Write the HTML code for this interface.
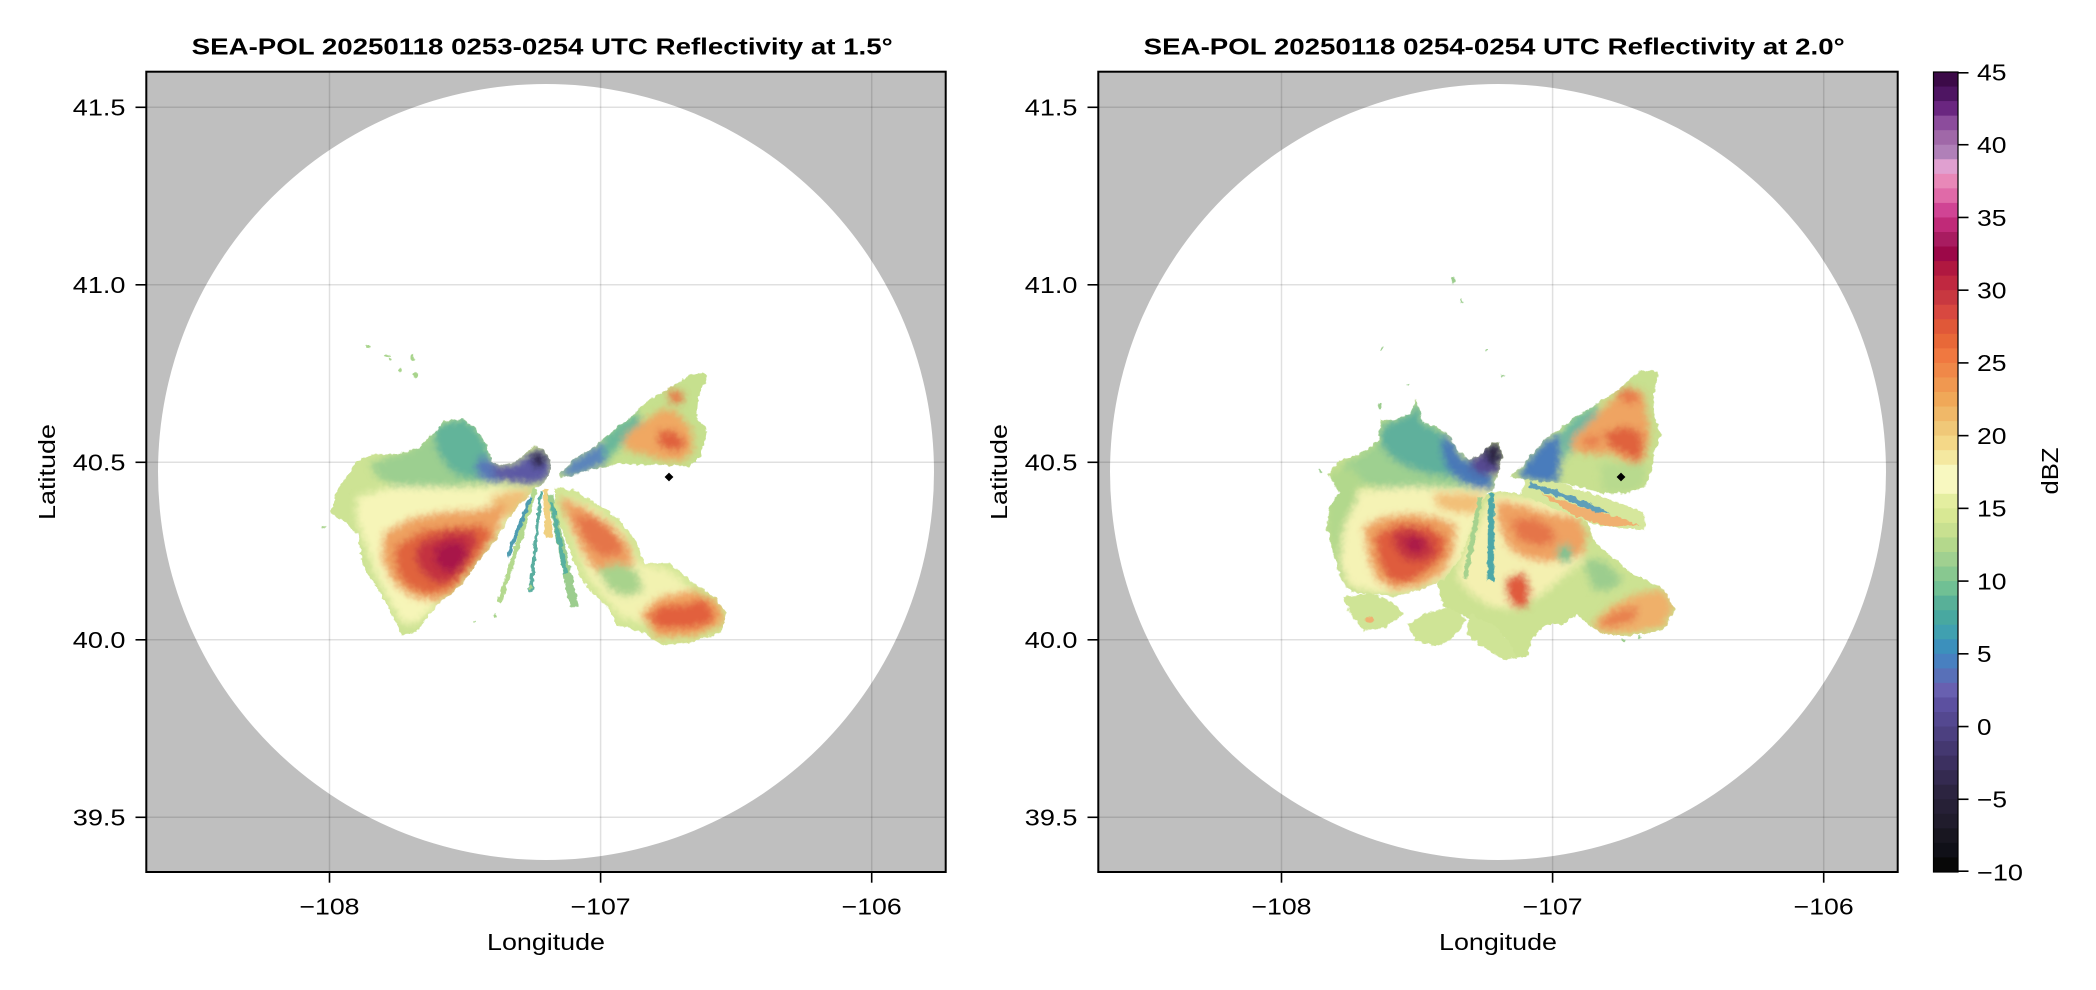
<!DOCTYPE html>
<html>
<head>
<meta charset="utf-8">
<style>
html,body{margin:0;padding:0;background:#fff;}
svg{display:block;}
text{font-family:"Liberation Sans","DejaVu Sans",sans-serif;fill:#000;}
</style>
</head>
<body>
<svg width="2096" height="990" viewBox="0 0 2096 990" xmlns="http://www.w3.org/2000/svg">
<defs>
  <clipPath id="axL"><rect x="146.3" y="71.7" width="799.4" height="800.3"/></clipPath>
  <clipPath id="axR"><rect x="1098.3" y="71.7" width="799.4" height="800.3"/></clipPath>
  <filter id="blur" x="-30%" y="-30%" width="160%" height="160%"><feGaussianBlur stdDeviation="11"/></filter>
  <filter id="rough" x="-8%" y="-8%" width="116%" height="116%">
    <feTurbulence type="fractalNoise" baseFrequency="0.06" numOctaves="2" seed="7" result="n"/>
    <feDisplacementMap in="SourceGraphic" in2="n" scale="16" xChannelSelector="R" yChannelSelector="G"/>
  </filter>
  <!-- Left clip shapes (zoom coords) -->
  <clipPath id="cLW"><polygon points="705,455 724,420 714,378 692,350 668,350 640,376 620,395 580,405 548,398 530,345 500,300 462,268 400,272 384,300 350,330 330,352 300,362 260,372 190,372 140,395 110,440 85,470 62,550 110,580 145,615 155,700 205,780 240,840 275,915 320,905 380,825 450,770 500,700 550,640 600,560 640,510 675,480"/></clipPath>
  <clipPath id="cLSE"><polygon points="735,475 790,480 860,520 930,570 975,630 1005,700 1080,700 1150,760 1215,800 1250,850 1235,905 1150,935 1060,945 990,905 920,885 900,840 860,800 820,755 790,690 760,610 735,540"/></clipPath>
  <clipPath id="cLNE"><polygon points="745,434 800,382 850,352 900,310 960,262 1010,215 1070,180 1130,140 1180,125 1192,140 1165,200 1160,262 1192,300 1172,380 1135,410 1080,405 1000,405 930,400 880,412 830,420 790,436 750,445"/></clipPath>
  <!-- Right clip shapes -->
  <clipPath id="cRW"><polygon points="548,692 565,640 578,585 568,548 545,545 520,580 480,598 440,570 420,530 380,500 340,490 318,415 300,462 250,480 212,480 205,540 160,578 90,600 55,640 88,700 58,740 50,800 70,880 90,950 120,995 200,1005 260,1010 330,990 400,960 450,900 480,820 510,740 530,700"/></clipPath>
  <clipPath id="cRS"><polygon points="548,695 640,700 720,730 800,760 835,790 850,840 880,870 920,900 960,940 1010,960 1060,985 1095,1050 1060,1110 960,1130 880,1122 840,1100 800,1062 760,1092 720,1090 700,1100 670,1130 650,1192 600,1185 585,1130 540,1100 500,1080 440,1062 400,1040 385,990 380,930 420,880 460,800 500,720"/></clipPath>
  <clipPath id="cRNE"><polygon points="600,652 640,612 700,542 780,482 860,432 920,392 990,330 1048,335 1030,400 1032,460 1052,520 1032,580 1022,640 1002,682 950,700 880,700 800,680 740,668 662,662"/></clipPath>
  <clipPath id="cRE"><polygon points="645,648 760,672 880,712 1000,756 1004,812 930,804 860,794 800,774 720,740 636,704"/></clipPath>
</defs>

<rect x="0" y="0" width="2096" height="990" fill="#ffffff"/>

<!-- ================= LEFT PANEL ================= -->
<g clip-path="url(#axL)">
  <rect x="146.3" y="71.7" width="799.4" height="800.3" fill="#bfbfbf"/>
  <circle cx="546" cy="472" r="388" fill="#ffffff"/>
  <g stroke="rgba(0,0,0,0.12)" stroke-width="1.5">
    <line x1="329.5" y1="71" x2="329.5" y2="873"/>
    <line x1="600.6" y1="71" x2="600.6" y2="873"/>
    <line x1="871.7" y1="71" x2="871.7" y2="873"/>
    <line x1="146" y1="107.3" x2="946" y2="107.3"/>
    <line x1="146" y1="284.8" x2="946" y2="284.8"/>
    <line x1="146" y1="462.3" x2="946" y2="462.3"/>
    <line x1="146" y1="639.8" x2="946" y2="639.8"/>
    <line x1="146" y1="817.3" x2="946" y2="817.3"/>
  </g>
  <g transform="translate(310,330) scale(0.333333)">
   <g filter="url(#rough)">
    <!-- West blob -->
    <g clip-path="url(#cLW)">
      <rect x="0" y="200" width="800" height="800" fill="#cde394"/>
      <g filter="url(#blur)">
        <polygon points="300,360 380,300 420,360 470,420 520,440 540,460 450,470 350,470 260,470 200,440 180,400 250,375" fill="#9ccf90"/>
        <polygon points="380,285 460,262 505,300 535,350 548,410 520,440 470,445 420,420 385,370 370,320" fill="#62b49a"/>
        <polygon points="515,375 550,398 585,420 570,458 520,452 495,420" fill="#5878b8"/>
        <polygon points="548,398 580,410 620,398 650,378 690,352 714,378 724,420 704,452 660,462 600,455 565,445 548,430" fill="#5c58a4"/>
        <polygon points="662,378 682,364 702,372 706,400 690,412 668,405" fill="#2e2844"/>
        <polygon points="140,500 250,470 350,470 450,472 560,470 650,476 665,490 600,560 550,640 500,700 450,770 380,825 320,880 275,880 230,800 195,730 165,640 140,570" fill="#f6f5b8"/>
        <polygon points="540,500 600,482 668,482 640,520 600,560 560,560" fill="#f0c078"/>
        <polygon points="220,610 300,565 400,545 500,540 590,520 560,620 500,700 440,780 380,815 300,800 250,760 215,690" fill="#eea260"/>
        <polygon points="255,650 340,600 430,590 520,585 545,615 490,700 430,770 370,795 300,775 260,725" fill="#e0643e"/>
        <polygon points="330,640 410,605 490,605 500,640 470,700 430,750 380,760 335,725 315,680" fill="#c43040"/>
        <polygon points="380,650 440,630 475,665 450,715 405,725 375,695" fill="#a81848"/>
      </g>
    </g>
    <!-- spokes -->
    <polygon points="668,478 682,480 575,820 562,815" fill="#b4d98e"/>
    <polygon points="655,500 668,502 600,680 588,678" fill="#4f9cb0"/>
    <polygon points="688,482 697,482 668,785 656,783" fill="#5aaea0"/>
    <polygon points="698,478 714,478 728,620 706,625" fill="#f0d080"/>
    <polygon points="712,498 730,496 808,830 780,832" fill="#9ccd8e"/>
    <polygon points="720,520 731,520 775,730 760,732" fill="#58b0a0"/>
    <!-- SE wedge -->
    <g clip-path="url(#cLSE)">
      <rect x="700" y="450" width="600" height="520" fill="#d2e696"/>
      <g filter="url(#blur)">
        <polygon points="760,500 850,530 940,600 990,700 1080,720 1150,780 1200,820 1150,900 1000,880 930,860 880,800 830,740 800,660 770,580" fill="#f2f2b0"/>
        <polygon points="745,500 820,530 900,580 955,640 975,700 920,720 870,735 830,690 800,630 775,570" fill="#eea062"/>
        <polygon points="790,555 860,565 920,620 940,670 880,680 830,640" fill="#e57448"/>
        <polygon points="860,720 920,700 980,720 1000,780 950,800 900,780" fill="#a8d38c"/>
        <polygon points="990,850 1050,800 1150,780 1230,820 1242,880 1150,920 1040,920" fill="#f0a25e"/>
        <polygon points="1010,860 1060,825 1120,825 1180,805 1215,850 1195,885 1120,895 1050,895" fill="#e2603e"/>
      </g>
    </g>
    <!-- NE blob -->
    <g clip-path="url(#cLNE)">
      <rect x="730" y="100" width="490" height="360" fill="#c6e08e"/>
      <g filter="url(#blur)">
        <polygon points="745,434 800,382 850,352 892,330 895,395 840,420 790,440" fill="#5a84bc"/>
        <polygon points="880,320 930,280 980,245 1000,290 940,340 900,380 885,400" fill="#6ab89a"/>
        <polygon points="940,320 1000,275 1060,235 1105,250 1145,300 1150,360 1120,392 1060,392 1000,372 950,360" fill="#f0a862"/>
        <polygon points="1045,300 1100,305 1130,345 1095,365 1045,345" fill="#e0603e"/>
        <polygon points="1075,178 1120,188 1115,222 1080,218" fill="#e87a4a"/>
      </g>
    </g>
    <!-- specks -->
    <g fill="#a8d48c">
      <ellipse cx="175" cy="50" rx="7" ry="4"/>
      <ellipse cx="232" cy="76" rx="9" ry="4"/>
      <ellipse cx="240" cy="86" rx="5" ry="4"/>
      <ellipse cx="308" cy="84" rx="5" ry="9"/>
      <ellipse cx="272" cy="120" rx="5" ry="4"/>
      <ellipse cx="318" cy="135" rx="8" ry="6"/>
      <ellipse cx="42" cy="590" rx="6" ry="3"/>
      <ellipse cx="490" cy="876" rx="4" ry="4"/>
      <ellipse cx="555" cy="856" rx="5" ry="5"/>
      <ellipse cx="662" cy="770" rx="4" ry="8"/>
    </g>
   </g>
  </g>
  <polygon points="669,472.6 673.4,477 669,481.4 664.6,477" fill="#000"/>
</g>
<rect x="146.3" y="71.7" width="799.4" height="800.3" fill="none" stroke="#000" stroke-width="2"/>
<!-- left ticks -->
<g stroke="#000" stroke-width="1.6">
  <line x1="135.5" y1="107.3" x2="146.3" y2="107.3"/>
  <line x1="135.5" y1="284.8" x2="146.3" y2="284.8"/>
  <line x1="135.5" y1="462.3" x2="146.3" y2="462.3"/>
  <line x1="135.5" y1="639.8" x2="146.3" y2="639.8"/>
  <line x1="135.5" y1="817.3" x2="146.3" y2="817.3"/>
  <line x1="329.5" y1="872" x2="329.5" y2="882.7"/>
  <line x1="600.6" y1="872" x2="600.6" y2="882.7"/>
  <line x1="871.7" y1="872" x2="871.7" y2="882.7"/>
</g>
<g font-size="23">
  <text x="125.5" y="115.6" text-anchor="end" textLength="52.7" lengthAdjust="spacingAndGlyphs">41.5</text>
  <text x="125.5" y="293.1" text-anchor="end" textLength="52.7" lengthAdjust="spacingAndGlyphs">41.0</text>
  <text x="125.5" y="470.6" text-anchor="end" textLength="52.7" lengthAdjust="spacingAndGlyphs">40.5</text>
  <text x="125.5" y="648.1" text-anchor="end" textLength="52.7" lengthAdjust="spacingAndGlyphs">40.0</text>
  <text x="125.5" y="825.6" text-anchor="end" textLength="52.7" lengthAdjust="spacingAndGlyphs">39.5</text>
  <text x="299.5" y="914.5" textLength="60" lengthAdjust="spacingAndGlyphs">−108</text>
  <text x="570.6" y="914.5" textLength="60" lengthAdjust="spacingAndGlyphs">−107</text>
  <text x="841.7" y="914.5" textLength="60" lengthAdjust="spacingAndGlyphs">−106</text>
  <text x="487" y="950" textLength="118" lengthAdjust="spacingAndGlyphs">Longitude</text>
  <text transform="translate(55,472) rotate(-90)" x="-48" y="0" textLength="96" lengthAdjust="spacingAndGlyphs">Latitude</text>
  <text x="191.7" y="54.3" font-weight="bold" font-size="23.5" textLength="701" lengthAdjust="spacingAndGlyphs">SEA-POL 20250118 0253-0254 UTC Reflectivity at 1.5°</text>
</g>

<!-- ================= RIGHT PANEL ================= -->
<g clip-path="url(#axR)">
  <rect x="1098.3" y="71.7" width="799.4" height="800.3" fill="#bfbfbf"/>
  <circle cx="1498" cy="472" r="388" fill="#ffffff"/>
  <g stroke="rgba(0,0,0,0.12)" stroke-width="1.5">
    <line x1="1281.5" y1="71" x2="1281.5" y2="873"/>
    <line x1="1552.6" y1="71" x2="1552.6" y2="873"/>
    <line x1="1823.7" y1="71" x2="1823.7" y2="873"/>
    <line x1="1098" y1="107.3" x2="1898" y2="107.3"/>
    <line x1="1098" y1="284.8" x2="1898" y2="284.8"/>
    <line x1="1098" y1="462.3" x2="1898" y2="462.3"/>
    <line x1="1098" y1="639.8" x2="1898" y2="639.8"/>
    <line x1="1098" y1="817.3" x2="1898" y2="817.3"/>
  </g>
  <g transform="translate(1310,260) scale(0.333333)">
   <g filter="url(#rough)">
    <!-- South / east region (drawn first) -->
    <g clip-path="url(#cRS)">
      <rect x="370" y="680" width="740" height="530" fill="#cce292"/>
      <g filter="url(#blur)">
        <polygon points="560,700 700,720 800,760 830,820 820,900 760,950 700,1000 620,1050 540,1040 480,1000 440,950 460,880 500,800 530,730" fill="#f4f0b0"/>
        <polygon points="560,720 640,735 720,760 800,770 830,820 820,880 780,900 720,905 660,900 600,870 575,820 560,770" fill="#efa262"/>
        <polygon points="600,780 670,775 720,800 740,840 690,860 630,840" fill="#e57448"/>
        <polygon points="588,955 640,935 662,985 652,1040 610,1042 588,1000" fill="#e05a3e"/>
        <ellipse cx="765" cy="880" rx="22" ry="28" fill="#7cc292"/>
        <polygon points="820,900 880,900 940,960 900,990 850,990" fill="#9ccd8e"/>
        <polygon points="845,1092 900,1040 980,1000 1060,990 1090,1040 1062,1100 960,1120 880,1120" fill="#efb06a"/>
        <polygon points="862,1090 920,1052 985,1040 975,1080 905,1102" fill="#e8804e"/>
      </g>
    </g>
    <!-- West blob -->
    <g clip-path="url(#cRW)">
      <rect x="0" y="380" width="620" height="660" fill="#c8e090"/>
      <g filter="url(#blur)">
        <polygon points="212,480 300,462 340,490 380,510 420,560 470,640 520,680 400,690 300,690 200,680 120,660 90,620 160,578 205,540" fill="#9ed090"/>
        <polygon points="215,500 300,460 320,420 340,490 380,505 420,540 440,600 470,640 420,650 350,640 290,620 240,590 210,550" fill="#5fb09c"/>
        <polygon points="400,520 430,545 450,590 490,610 540,640 552,690 500,684 450,665 410,625 395,570" fill="#4a78b8"/>
        <polygon points="478,600 510,582 540,548 568,548 578,585 565,640 525,648 490,632" fill="#574a92"/>
        <polygon points="525,570 548,548 570,555 572,600 555,620 530,605" fill="#2c2540"/>
        <polygon points="58,720 150,690 300,680 450,685 545,695 520,745 490,820 460,900 400,960 300,1000 200,1000 120,980 80,900 60,800" fill="#f5f3b5"/>
        <polygon points="50,650 100,620 150,640 140,720 100,800 90,900 110,990 70,900 50,800" fill="#b2d88c"/>
        <polygon points="370,700 450,700 520,705 500,760 440,760 380,740" fill="#f2c078"/>
        <polygon points="160,800 220,770 300,760 380,770 440,795 430,880 400,940 330,980 250,990 200,960 175,900" fill="#eea260"/>
        <polygon points="195,825 265,790 350,795 405,830 405,880 355,930 300,965 240,965 205,900" fill="#df5c3e"/>
        <polygon points="245,820 310,805 365,835 375,880 335,905 280,895 255,860" fill="#c23040"/>
        <polygon points="280,840 325,832 345,862 310,880" fill="#a81848"/>
      </g>
    </g>
    <!-- streaks -->
    <polygon points="535,700 552,700 552,965 532,962" fill="#4ea8a8"/>
    <polygon points="505,710 518,712 472,955 458,952" fill="#a6d28e"/>
    <!-- ESE streak region -->
    <g clip-path="url(#cRE)">
      <rect x="630" y="640" width="380" height="180" fill="#d6e79c"/>
      <polygon points="690,700 800,735 900,765 990,795 900,800 800,770" fill="#f0b070"/>
      <polygon points="660,665 760,700 860,740 900,760 860,756 760,716 655,682" fill="#5f9fb8"/>
    </g>
    <!-- NE blob -->
    <g clip-path="url(#cRNE)">
      <rect x="590" y="320" width="470" height="390" fill="#c8e090"/>
      <g filter="url(#blur)">
        <polygon points="622,650 645,612 700,545 750,520 752,600 742,665 700,668" fill="#4a7cbc"/>
        <polygon points="752,520 782,482 832,450 862,432 862,480 802,540 762,600" fill="#6ab8a0"/>
        <polygon points="782,540 842,482 902,422 962,380 1002,400 1012,470 1022,522 1002,602 962,612 902,582 842,582 792,572" fill="#efa462"/>
        <polygon points="880,520 940,500 990,512 1000,562 980,612 950,582 900,562" fill="#e0623e"/>
        <polygon points="920,392 962,385 992,412 972,432 932,422" fill="#e87a4c"/>
        <polygon points="822,532 872,522 862,562 822,562" fill="#e8804e"/>
        <polygon points="870,610 1010,610 1000,680 950,700 880,698" fill="#b8da8e"/>
      </g>
    </g>
    <!-- south scattered -->
    <g fill="#cfe496">
      <polygon points="100,1010 180,1000 240,1020 280,1060 230,1100 160,1112 120,1062"/>
      <polygon points="290,1092 350,1060 420,1040 470,1080 430,1130 380,1162 320,1142"/>
      <polygon points="480,1062 560,1100 600,1150 620,1192 580,1200 520,1162 470,1122"/>
    </g>
    <ellipse cx="180" cy="1080" rx="14" ry="10" fill="#f0b070"/>
    <!-- specks -->
    <g fill="#9ccd8e">
      <ellipse cx="430" cy="60" rx="5" ry="10"/>
      <ellipse cx="455" cy="122" rx="3" ry="6"/>
      <ellipse cx="215" cy="265" rx="4" ry="4"/>
      <ellipse cx="532" cy="272" rx="4" ry="4"/>
      <ellipse cx="580" cy="346" rx="4" ry="4"/>
      <ellipse cx="295" cy="375" rx="3" ry="3"/>
      <ellipse cx="210" cy="440" rx="6" ry="8"/>
      <ellipse cx="30" cy="635" rx="5" ry="4"/>
      <ellipse cx="940" cy="1140" rx="8" ry="5"/>
      <ellipse cx="990" cy="1132" rx="5" ry="4"/>
    </g>
   </g>
  </g>
  <polygon points="1621,472.6 1625.4,477 1621,481.4 1616.6,477" fill="#000"/>
</g>
<rect x="1098.3" y="71.7" width="799.4" height="800.3" fill="none" stroke="#000" stroke-width="2"/>
<g stroke="#000" stroke-width="1.6">
  <line x1="1087.5" y1="107.3" x2="1098.3" y2="107.3"/>
  <line x1="1087.5" y1="284.8" x2="1098.3" y2="284.8"/>
  <line x1="1087.5" y1="462.3" x2="1098.3" y2="462.3"/>
  <line x1="1087.5" y1="639.8" x2="1098.3" y2="639.8"/>
  <line x1="1087.5" y1="817.3" x2="1098.3" y2="817.3"/>
  <line x1="1281.5" y1="872" x2="1281.5" y2="882.7"/>
  <line x1="1552.6" y1="872" x2="1552.6" y2="882.7"/>
  <line x1="1823.7" y1="872" x2="1823.7" y2="882.7"/>
</g>
<g font-size="23">
  <text x="1077.5" y="115.6" text-anchor="end" textLength="52.7" lengthAdjust="spacingAndGlyphs">41.5</text>
  <text x="1077.5" y="293.1" text-anchor="end" textLength="52.7" lengthAdjust="spacingAndGlyphs">41.0</text>
  <text x="1077.5" y="470.6" text-anchor="end" textLength="52.7" lengthAdjust="spacingAndGlyphs">40.5</text>
  <text x="1077.5" y="648.1" text-anchor="end" textLength="52.7" lengthAdjust="spacingAndGlyphs">40.0</text>
  <text x="1077.5" y="825.6" text-anchor="end" textLength="52.7" lengthAdjust="spacingAndGlyphs">39.5</text>
  <text x="1251.5" y="914.5" textLength="60" lengthAdjust="spacingAndGlyphs">−108</text>
  <text x="1522.6" y="914.5" textLength="60" lengthAdjust="spacingAndGlyphs">−107</text>
  <text x="1793.7" y="914.5" textLength="60" lengthAdjust="spacingAndGlyphs">−106</text>
  <text x="1439" y="950" textLength="118" lengthAdjust="spacingAndGlyphs">Longitude</text>
  <text transform="translate(1007,472) rotate(-90)" x="-48" y="0" textLength="96" lengthAdjust="spacingAndGlyphs">Latitude</text>
  <text x="1143.7" y="54.3" font-weight="bold" font-size="23.5" textLength="701" lengthAdjust="spacingAndGlyphs">SEA-POL 20250118 0254-0254 UTC Reflectivity at 2.0°</text>
</g>

<!-- ================= COLORBAR ================= -->
<g>
  <rect x="1933.5" y="72.00" width="24.5" height="15" fill="#3c0a48"/>
  <rect x="1933.5" y="86.55" width="24.5" height="15" fill="#4e1562"/>
  <rect x="1933.5" y="101.09" width="24.5" height="15" fill="#6a2680"/>
  <rect x="1933.5" y="115.64" width="24.5" height="15" fill="#8c4c9c"/>
  <rect x="1933.5" y="130.18" width="24.5" height="15" fill="#a068a8"/>
  <rect x="1933.5" y="144.73" width="24.5" height="15" fill="#b080b8"/>
  <rect x="1933.5" y="159.27" width="24.5" height="15" fill="#e0a0d0"/>
  <rect x="1933.5" y="173.82" width="24.5" height="15" fill="#e888b8"/>
  <rect x="1933.5" y="188.36" width="24.5" height="15" fill="#e06aa8"/>
  <rect x="1933.5" y="202.91" width="24.5" height="15" fill="#d04494"/>
  <rect x="1933.5" y="217.45" width="24.5" height="15" fill="#c02a78"/>
  <rect x="1933.5" y="232.00" width="24.5" height="15" fill="#a81c60"/>
  <rect x="1933.5" y="246.55" width="24.5" height="15" fill="#9c0848"/>
  <rect x="1933.5" y="261.09" width="24.5" height="15" fill="#b01840"/>
  <rect x="1933.5" y="275.64" width="24.5" height="15" fill="#c02840"/>
  <rect x="1933.5" y="290.18" width="24.5" height="15" fill="#c83840"/>
  <rect x="1933.5" y="304.73" width="24.5" height="15" fill="#d84840"/>
  <rect x="1933.5" y="319.27" width="24.5" height="15" fill="#e05838"/>
  <rect x="1933.5" y="333.82" width="24.5" height="15" fill="#e86838"/>
  <rect x="1933.5" y="348.36" width="24.5" height="15" fill="#f07840"/>
  <rect x="1933.5" y="362.91" width="24.5" height="15" fill="#f08848"/>
  <rect x="1933.5" y="377.45" width="24.5" height="15" fill="#f09850"/>
  <rect x="1933.5" y="392.00" width="24.5" height="15" fill="#f0a858"/>
  <rect x="1933.5" y="406.55" width="24.5" height="15" fill="#f0b868"/>
  <rect x="1933.5" y="421.09" width="24.5" height="15" fill="#f0c878"/>
  <rect x="1933.5" y="435.64" width="24.5" height="15" fill="#f4d888"/>
  <rect x="1933.5" y="450.18" width="24.5" height="15" fill="#f4e8a0"/>
  <rect x="1933.5" y="464.73" width="24.5" height="15" fill="#f8f8c0"/>
  <rect x="1933.5" y="479.27" width="24.5" height="15" fill="#f8f8c0"/>
  <rect x="1933.5" y="493.82" width="24.5" height="15" fill="#e4eea0"/>
  <rect x="1933.5" y="508.36" width="24.5" height="15" fill="#d8e894"/>
  <rect x="1933.5" y="522.91" width="24.5" height="15" fill="#c8e090"/>
  <rect x="1933.5" y="537.45" width="24.5" height="15" fill="#b4d88c"/>
  <rect x="1933.5" y="552.00" width="24.5" height="15" fill="#a0d090"/>
  <rect x="1933.5" y="566.55" width="24.5" height="15" fill="#88c890"/>
  <rect x="1933.5" y="581.09" width="24.5" height="15" fill="#70c094"/>
  <rect x="1933.5" y="595.64" width="24.5" height="15" fill="#58b098"/>
  <rect x="1933.5" y="610.18" width="24.5" height="15" fill="#48a8a0"/>
  <rect x="1933.5" y="624.73" width="24.5" height="15" fill="#40a0b0"/>
  <rect x="1933.5" y="639.27" width="24.5" height="15" fill="#3c90bc"/>
  <rect x="1933.5" y="653.82" width="24.5" height="15" fill="#4880c0"/>
  <rect x="1933.5" y="668.36" width="24.5" height="15" fill="#5870b8"/>
  <rect x="1933.5" y="682.91" width="24.5" height="15" fill="#6860b0"/>
  <rect x="1933.5" y="697.45" width="24.5" height="15" fill="#5c50a0"/>
  <rect x="1933.5" y="712.00" width="24.5" height="15" fill="#544890"/>
  <rect x="1933.5" y="726.55" width="24.5" height="15" fill="#4c4080"/>
  <rect x="1933.5" y="741.09" width="24.5" height="15" fill="#443870"/>
  <rect x="1933.5" y="755.64" width="24.5" height="15" fill="#3c3060"/>
  <rect x="1933.5" y="770.18" width="24.5" height="15" fill="#342a50"/>
  <rect x="1933.5" y="784.73" width="24.5" height="15" fill="#2c2440"/>
  <rect x="1933.5" y="799.27" width="24.5" height="15" fill="#262036"/>
  <rect x="1933.5" y="813.82" width="24.5" height="15" fill="#201c2c"/>
  <rect x="1933.5" y="828.36" width="24.5" height="15" fill="#181620"/>
  <rect x="1933.5" y="842.91" width="24.5" height="15" fill="#101018"/>
  <rect x="1933.5" y="857.45" width="24.5" height="14.55" fill="#080808"/>
  <rect x="1933.5" y="72" width="24.5" height="800" fill="none" stroke="#000" stroke-width="1.2"/>
</g>
<g stroke="#000" stroke-width="1.6">
  <line x1="1958" y1="72.8" x2="1968.5" y2="72.8"/>
  <line x1="1958" y1="144.73" x2="1968.5" y2="144.73"/>
  <line x1="1958" y1="217.45" x2="1968.5" y2="217.45"/>
  <line x1="1958" y1="290.18" x2="1968.5" y2="290.18"/>
  <line x1="1958" y1="362.91" x2="1968.5" y2="362.91"/>
  <line x1="1958" y1="435.64" x2="1968.5" y2="435.64"/>
  <line x1="1958" y1="508.36" x2="1968.5" y2="508.36"/>
  <line x1="1958" y1="581.09" x2="1968.5" y2="581.09"/>
  <line x1="1958" y1="653.82" x2="1968.5" y2="653.82"/>
  <line x1="1958" y1="726.55" x2="1968.5" y2="726.55"/>
  <line x1="1958" y1="799.27" x2="1968.5" y2="799.27"/>
  <line x1="1958" y1="871.2" x2="1968.5" y2="871.2"/>
</g>
<g font-size="23">
  <text x="1977" y="80.3" textLength="29.5" lengthAdjust="spacingAndGlyphs">45</text>
  <text x="1977" y="153.0" textLength="29.5" lengthAdjust="spacingAndGlyphs">40</text>
  <text x="1977" y="225.8" textLength="29.5" lengthAdjust="spacingAndGlyphs">35</text>
  <text x="1977" y="298.5" textLength="29.5" lengthAdjust="spacingAndGlyphs">30</text>
  <text x="1977" y="371.2" textLength="29.5" lengthAdjust="spacingAndGlyphs">25</text>
  <text x="1977" y="443.9" textLength="29.5" lengthAdjust="spacingAndGlyphs">20</text>
  <text x="1977" y="516.7" textLength="29.5" lengthAdjust="spacingAndGlyphs">15</text>
  <text x="1977" y="589.4" textLength="29.5" lengthAdjust="spacingAndGlyphs">10</text>
  <text x="1977" y="662.1" textLength="14.5" lengthAdjust="spacingAndGlyphs">5</text>
  <text x="1977" y="734.9" textLength="14.5" lengthAdjust="spacingAndGlyphs">0</text>
  <text x="1977" y="807.6" textLength="30" lengthAdjust="spacingAndGlyphs">−5</text>
  <text x="1977" y="880.3" textLength="46" lengthAdjust="spacingAndGlyphs">−10</text>
  <text transform="translate(2058,471) rotate(-90)" x="-23.5" y="0" textLength="47" lengthAdjust="spacingAndGlyphs">dBZ</text>
</g>
</svg>
</body>
</html>
